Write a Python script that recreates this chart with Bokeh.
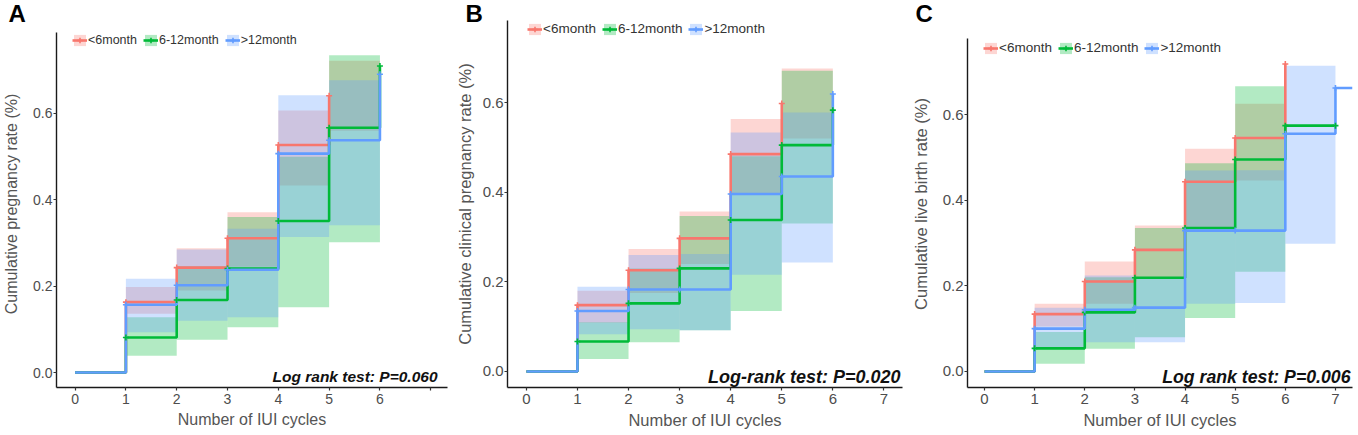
from bokeh.plotting import figure
from bokeh.layouts import row
from bokeh.models import (Range1d, Label, Legend, LegendItem, FixedTicker,
                          PrintfTickFormatter, Title)
from bokeh.embed import file_html
from bokeh.resources import INLINE

GROUPS = ["<6month", "6-12month", ">12month"]
COLORS = ["#F8766D", "#00BA38", "#619CFF"]
Y_TICKS = [0.0, 0.2, 0.4, 0.6]
X_TICKS = [0, 1, 2, 3, 4, 5, 6, 7]

# ---------------- Panel A: cumulative pregnancy rate ----------------
A_RED_T = [0, 1, 2, 3, 4, 5]
A_RED_S = [0.0, 0.163, 0.243, 0.311, 0.527, 0.641]
A_RED_CI_EDGES = [1, 2, 3, 4, 5, 6]
A_RED_LO = [0.136, 0.190, 0.245, 0.433, 0.560]
A_RED_HI = [0.198, 0.288, 0.371, 0.607, 0.722]

A_GRN_T = [0, 1, 2, 3, 4, 5, 6]
A_GRN_S = [0.0, 0.081, 0.168, 0.241, 0.351, 0.567, 0.710]
A_GRN_CI_EDGES = [1, 2, 3, 4, 5, 6]
A_GRN_LO = [0.039, 0.076, 0.105, 0.151, 0.302]
A_GRN_HI = [0.128, 0.246, 0.360, 0.500, 0.735]

A_BLU_T = [0, 1, 2, 3, 4, 5, 6]
A_BLU_S = [0.0, 0.157, 0.202, 0.238, 0.507, 0.538, 0.691]
A_BLU_CI_EDGES = [1, 2, 3, 4, 5, 6]
A_BLU_LO = [0.093, 0.120, 0.128, 0.314, 0.341]
A_BLU_HI = [0.217, 0.285, 0.333, 0.642, 0.677]

# ---------------- Panel B: cumulative clinical pregnancy rate ----------------
B_RED_T = [0, 1, 2, 3, 4, 5]
B_RED_S = [0.0, 0.148, 0.226, 0.297, 0.485, 0.598]
B_RED_CI_EDGES = [1, 2, 3, 4, 5, 6]
B_RED_LO = [0.109, 0.175, 0.240, 0.398, 0.520]
B_RED_HI = [0.180, 0.273, 0.357, 0.563, 0.676]

B_GRN_T = [0, 1, 2, 3, 4, 5, 6]
B_GRN_S = [0.0, 0.067, 0.152, 0.230, 0.338, 0.505, 0.583]
B_GRN_CI_EDGES = [1, 2, 3, 4, 5, 6]
B_GRN_LO = [0.028, 0.065, 0.092, 0.135, 0.330]
B_GRN_HI = [0.110, 0.230, 0.347, 0.480, 0.671]

B_BLU_T = [0, 1, 2, 3, 4, 5, 6]
B_BLU_S = [0.0, 0.135, 0.183, 0.183, 0.396, 0.435, 0.619]
B_BLU_CI_EDGES = [1, 2, 3, 4, 5, 6]
B_BLU_LO = [0.083, 0.094, 0.092, 0.216, 0.243]
B_BLU_HI = [0.189, 0.260, 0.262, 0.533, 0.578]

# ---------------- Panel C: cumulative live birth rate ----------------
C_RED_T = [0, 1, 2, 3, 4, 5, 6]
C_RED_S = [0.0, 0.134, 0.210, 0.284, 0.443, 0.545, 0.718]
C_RED_CI_EDGES = [1, 2, 3, 4, 5, 6]
C_RED_LO = [0.105, 0.158, 0.220, 0.337, 0.446]
C_RED_HI = [0.158, 0.257, 0.341, 0.520, 0.625]

C_GRN_T = [0, 1, 2, 3, 4, 5, 6, 7]
C_GRN_S = [0.0, 0.054, 0.138, 0.219, 0.335, 0.495, 0.574, 0.574]
C_GRN_CI_EDGES = [1, 2, 3, 4, 5, 6]
C_GRN_LO = [0.018, 0.053, 0.080, 0.125, 0.233]
C_GRN_HI = [0.092, 0.220, 0.335, 0.486, 0.666]

C_BLU_T = [0, 1, 2, 3, 4, 5, 6, 7]
C_BLU_S = [0.0, 0.100, 0.144, 0.149, 0.329, 0.329, 0.555, 0.662]
C_BLU_CI_EDGES = [1, 2, 3, 4, 5, 6, 7]
C_BLU_LO = [0.057, 0.068, 0.068, 0.158, 0.160, 0.298]
C_BLU_HI = [0.149, 0.224, 0.220, 0.469, 0.470, 0.714]

FONT = "Liberation Sans"


def make_panel(letter, ylabel, series, ptext, width, borders, xr, yr, ytop,
               legend_xy, letter_dx, ptext_xy, fs, ystandoff, extend_last=False,
               hidden_ticks=()):
    bl, br = borders
    title = Title(text=letter, align="left", offset=letter_dx, standoff=-13,
                  vertical_align="bottom", text_font=FONT, text_font_size="24px",
                  text_font_style="bold", text_color="black")
    p = figure(width=width, height=435, output_backend="svg",
               toolbar_location=None, x_range=Range1d(*xr), y_range=Range1d(*yr),
               min_border_left=bl, min_border_right=br, min_border_top=20,
               min_border_bottom=48, title=title)
    p.xgrid.visible = False
    p.ygrid.visible = False
    p.outline_line_color = None
    p.background_fill_color = "white"

    bands, lines, marks = [], [], []
    for (t, s, edges, lo, hi), col in zip(series, COLORS):
        bands.append(p.quad(left=edges[:-1], right=edges[1:], bottom=lo, top=hi,
                            fill_color=col, fill_alpha=0.3, line_color=None))
    for k, ((t, s, edges, lo, hi), col) in enumerate(zip(series, COLORS)):
        tt, ss = list(t), list(s)
        if extend_last and k == len(series) - 1:
            tt = tt + [xr[1]]
            ss = ss + [ss[-1]]
        lines.append(p.step(tt, ss, mode="after", line_color=col, line_width=2.6))
    for (t, s, edges, lo, hi), col in zip(series, COLORS):
        marks.append(p.scatter(t[1:], s[1:], marker="cross", size=6,
                               line_color=col, line_width=1.6))

    items = [LegendItem(label=g, renderers=[b, l, m])
             for g, b, l, m in zip(GROUPS, bands, lines, marks)]
    leg = Legend(items=items, orientation="horizontal", location=legend_xy,
                 padding=0, margin=0, spacing=6, glyph_width=15, glyph_height=14,
                 label_height=14, label_standoff=1,
                 label_text_font=FONT, label_text_font_size=fs["legend"],
                 label_text_color="#333333", border_line_alpha=0,
                 background_fill_alpha=0)
    p.add_layout(leg)

    for ax in (p.xaxis[0], p.yaxis[0]):
        ax.axis_line_color = "#1a1a1a"
        ax.axis_line_width = 1.4
        ax.major_tick_line_color = "#333333"
        ax.major_tick_line_width = 1.2
        ax.major_tick_out = 3
        ax.major_tick_in = 0
        ax.minor_tick_out = 0
        ax.minor_tick_in = 0
        ax.major_label_text_font = FONT
        ax.major_label_text_font_size = fs["tick"]
        ax.major_label_text_color = "#4d4d4d"
        ax.axis_label_text_font = FONT
        ax.axis_label_text_font_size = fs["title"]
        ax.axis_label_text_font_style = "normal"
        ax.axis_label_text_color = "#555555"
    p.xaxis.major_label_standoff = 3
    p.xaxis.axis_label_standoff = 4
    p.yaxis.major_label_standoff = 1
    p.yaxis.axis_label_standoff = ystandoff

    p.xaxis.ticker = FixedTicker(ticks=X_TICKS)
    p.xaxis.major_label_overrides = {t: "" for t in hidden_ticks}
    p.yaxis.ticker = FixedTicker(ticks=Y_TICKS)
    p.yaxis.formatter = PrintfTickFormatter(format="%.1f")
    p.yaxis.bounds = (yr[0], ytop)
    p.xaxis.axis_label = "Number of IUI cycles"
    p.yaxis.axis_label = ylabel

    p.add_layout(Label(x=ptext_xy[0], y=ptext_xy[1], x_units="screen",
                       y_units="screen", text=ptext, text_font=FONT,
                       text_font_size=fs["p"], text_font_style="bold italic",
                       text_color="#111111", text_align="right",
                       text_baseline="alphabetic"))
    return p


pA = make_panel(
    "A", "Cumulative pregnancy rate (%)",
    [(A_RED_T, A_RED_S, A_RED_CI_EDGES, A_RED_LO, A_RED_HI),
     (A_GRN_T, A_GRN_S, A_GRN_CI_EDGES, A_GRN_LO, A_GRN_HI),
     (A_BLU_T, A_BLU_S, A_BLU_CI_EDGES, A_BLU_LO, A_BLU_HI)],
    "Log rank test: P=0.060", 452, (54, 5),
    (-0.366, 7.33), (-0.0347, 0.8154), 0.787, (16, 340), -48, (381, 11),
    {"legend": "12.5px", "tick": "14px", "title": "16px", "p": "15.5px"}, 10,
    hidden_ticks=(7,))

pB = make_panel(
    "B", "Cumulative clinical pregnancy rate (%)",
    [(B_RED_T, B_RED_S, B_RED_CI_EDGES, B_RED_LO, B_RED_HI),
     (B_GRN_T, B_GRN_S, B_GRN_CI_EDGES, B_GRN_LO, B_GRN_HI),
     (B_BLU_T, B_BLU_S, B_BLU_CI_EDGES, B_BLU_LO, B_BLU_HI)],
    "Log-rank test: P=0.020", 453, (53, 3),
    (-0.370, 7.364), (-0.0357, 0.783), 0.783, (20, 351), -42, (393, 11),
    {"legend": "13.5px", "tick": "15px", "title": "16.5px", "p": "18px"}, 6)

pC = make_panel(
    "C", "Cumulative live birth rate (%)",
    [(C_RED_T, C_RED_S, C_RED_CI_EDGES, C_RED_LO, C_RED_HI),
     (C_GRN_T, C_GRN_S, C_GRN_CI_EDGES, C_GRN_LO, C_GRN_HI),
     (C_BLU_T, C_BLU_S, C_BLU_CI_EDGES, C_BLU_LO, C_BLU_HI)],
    "Log rank test: P=0.006", 453, (62, 6),
    (-0.339, 7.34), (-0.0374, 0.8195), 0.777, (16, 332), -52, (383, 11),
    {"legend": "13.5px", "tick": "15px", "title": "16.5px", "p": "17.7px"}, 10,
    extend_last=True)

layout = row(pA, pB, pC)
open("out.html", "w").write(file_html(layout, INLINE))
